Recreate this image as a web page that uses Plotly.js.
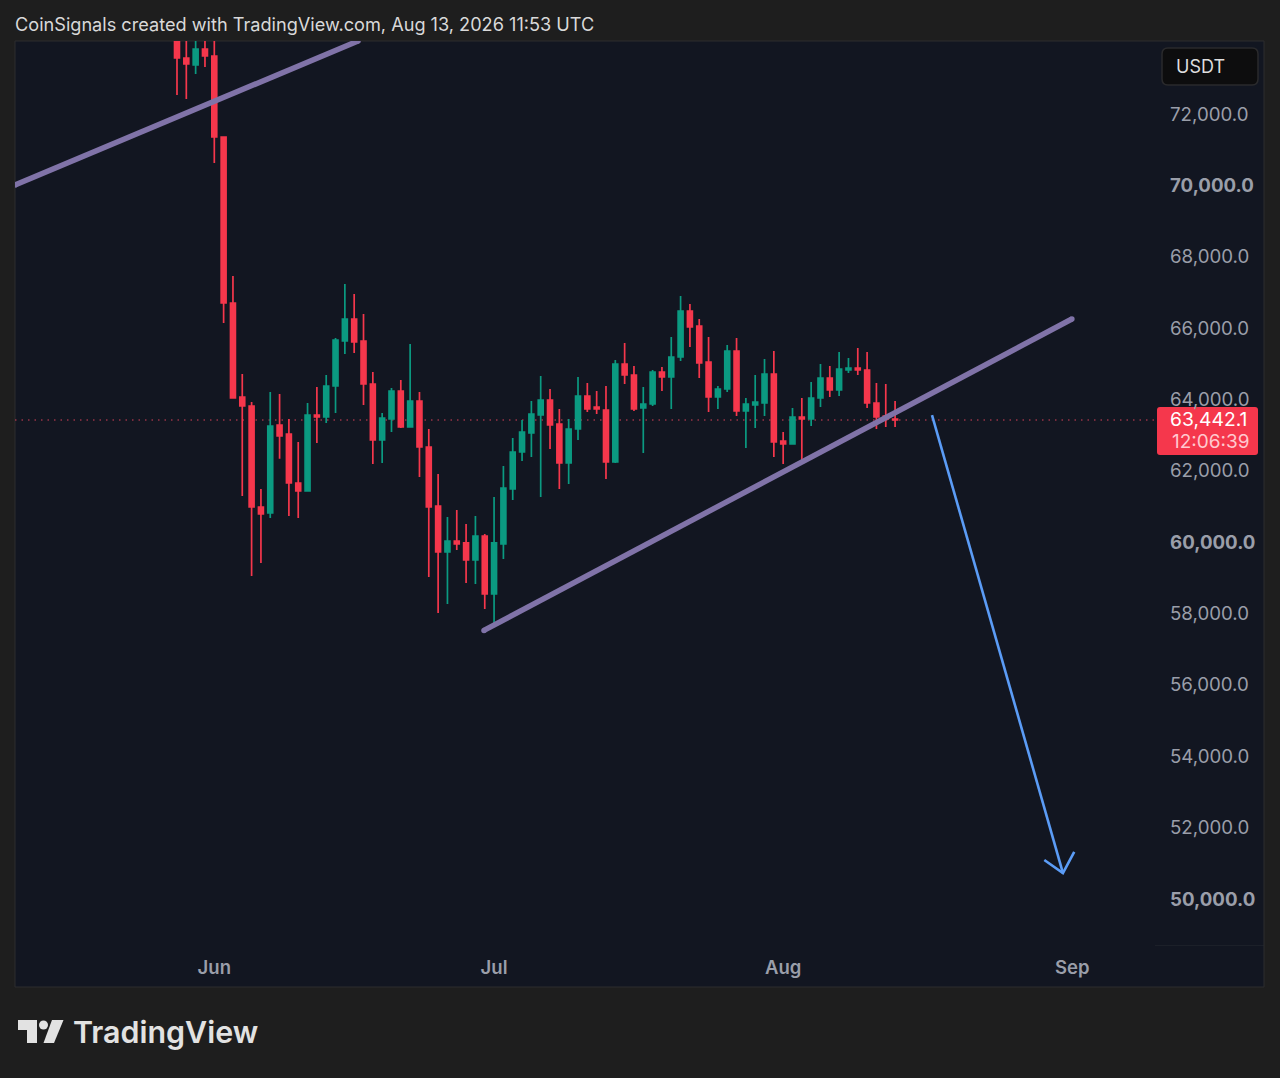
<!DOCTYPE html>
<html>
<head>
<meta charset="utf-8">
<script src="https://cdn.plot.ly/plotly-3.0.1.min.js"></script>
<style>
  html, body { margin: 0; padding: 0; background: #1e1e1e; }
  #chart { width: 1280px; height: 1078px; }
</style>
</head>
<body>
<div id="chart"></div>
<script>
// daily candles
const days = [
  '2026-05-28','2026-05-29','2026-05-30','2026-05-31',
  '2026-06-01','2026-06-02','2026-06-03','2026-06-04','2026-06-05','2026-06-06','2026-06-07','2026-06-08','2026-06-09','2026-06-10',
  '2026-06-11','2026-06-12','2026-06-13','2026-06-14','2026-06-15','2026-06-16','2026-06-17','2026-06-18','2026-06-19','2026-06-20',
  '2026-06-21','2026-06-22','2026-06-23','2026-06-24','2026-06-25','2026-06-26','2026-06-27','2026-06-28','2026-06-29','2026-06-30',
  '2026-07-01','2026-07-02','2026-07-03','2026-07-04','2026-07-05','2026-07-06','2026-07-07','2026-07-08','2026-07-09','2026-07-10',
  '2026-07-11','2026-07-12','2026-07-13','2026-07-14','2026-07-15','2026-07-16','2026-07-17','2026-07-18','2026-07-19','2026-07-20',
  '2026-07-21','2026-07-22','2026-07-23','2026-07-24','2026-07-25','2026-07-26','2026-07-27','2026-07-28','2026-07-29','2026-07-30','2026-07-31',
  '2026-08-01','2026-08-02','2026-08-03','2026-08-04','2026-08-05','2026-08-06','2026-08-07','2026-08-08','2026-08-09','2026-08-10','2026-08-11','2026-08-12','2026-08-13'
];
const opens = [
  74400,73541,73345,73794,
  73597,71327,66675,64041,63789,60958,60790,63256,63004,61631,
  61407,63536,63480,64349,65610,66227,65610,64405,62836,63424,
  64209,63200,63929,62640,60986,59697,60005,59950,59473,60145,
  58520,59921,61463,62500,63032,63536,63957,63284,62191,63144,
  64069,63761,63677,62219,64966,64657,63733,63845,64741,64601,
  65162,66451,66031,65022,64041,64265,65330,63649,63817,63873,64685,
  62808,62724,63480,63424,64013,64573,64237,64798,64854,64798,63873,63508,63424
];
const highs = [
  75000,74500,74300,74300,
  74300,71327,67432,64685,63900,61463,64181,64125,63424,62780,
  63873,64321,64657,65695,67208,66927,66367,64741,63593,64293,
  64517,65526,64181,63144,61883,60678,60874,60482,60706,60201,
  61238,62107,62892,63396,63929,64629,64265,63705,63424,64601,
  64433,64209,64349,65078,65554,64910,64321,64797,64882,65723,
  66871,66647,66227,65723,64349,65498,65695,64013,64657,65106,65330,
  63060,63733,64013,64461,64966,64910,65302,65134,65414,65302,64433,64405,63929
];
const lows = [
  72504,72392,73093,73289,
  70599,66115,64000,61267,59025,59389,60650,62312,60706,60650,
  61407,62752,63312,63593,65246,65274,63817,62163,62191,63060,
  63172,63200,61799,58996,57987,58240,59753,58828,58800,58100,
  57707,59501,61154,62248,62360,61238,62584,61463,61603,62836,
  63621,63564,61743,62190,64405,63649,62472,63789,64209,63705,
  65050,65442,64573,63621,63705,64181,63508,62612,63172,63508,62360,
  62163,62724,62191,63228,63761,64041,64069,64713,64657,63733,63144,63200,63200
];
const closes = [
  73541,73373,73794,73597,
  71327,66675,64013,63789,60958,60762,63228,62948,61631,61407,
  63536,63480,64349,65638,66227,65582,64405,62836,63452,64209,
  63200,63929,62640,60958,59697,60005,59921,59473,60145,58520,
  59950,61491,62500,63060,63564,63957,63256,62191,63144,64069,
  63705,63705,62219,64966,64657,63705,63845,64741,64601,65162,
  66451,66003,64994,64041,64265,65330,63649,63845,63901,64685,62780,
  62724,63480,63424,64013,64573,64237,64826,64854,64798,63873,63480,63424,63396
];

// drawings on the chart
const upperTrendX = ['2026-05-10 15:07','2026-06-16 10:00'];
const upperTrendY = [69982,74018];
const lowerTrendX = ['2026-06-29 22:00','2026-08-31 23:00'];
const lowerTrendY = [57500,66227];
const arrowX = ['2026-08-16 23:00','2026-08-31 00:00',null,'2026-08-29 00:00','2026-08-31 00:00','2026-09-01 05:00'];
const arrowY = [63536,50700,null,51066,50700,51290];
const lastPriceLine = 63396;

const priceTicks = [72000,70000,68000,66000,64000,62000,60000,58000,56000,54000,52000,50000];
const priceLabels = ['72,000.0','<b>70,000.0</b>','68,000.0','66,000.0','64,000.0','62,000.0','<b>60,000.0</b>','58,000.0','56,000.0','54,000.0','52,000.0','<b>50,000.0</b>'];
const monthTicks = ['2026-06-01','2026-07-01','2026-08-01','2026-09-01'];
const monthLabels = ['Jun','Jul','Aug','Sep'];

const RED = '#f5374c', GREEN = '#0b9a81', PURPLE = '#8073a8', BLUE = '#5b9cf6';
const FONT = 'Inter, "Liberation Sans", sans-serif';

// pixel -> paper for the furniture around the plot (plot box is 15..1155, 41..945)
const px = x => (x - 15) / 1140;
const py = y => (945 - y) / 904;
const box = (x0, y0, x1, y1, fill, line) => ({
  type:'rect', xref:'paper', yref:'paper', layer:'below',
  x0:px(x0), y0:py(y0), x1:px(x1), y1:py(y1),
  fillcolor:fill, line:{color:line || fill, width:line ? 1 : 0}
});
const roundBox = (x0, y0, x1, y1, r, fill, line) => {
  const P = (x, y) => px(x) + ',' + py(y);
  return {
    type:'path', xref:'paper', yref:'paper', layer:'below', fillcolor:fill,
    line:{color:line || fill, width:line ? 1.5 : 0},
    path:'M' + P(x0 + r, y0) + 'L' + P(x1 - r, y0) + 'Q' + P(x1, y0) + ' ' + P(x1, y0 + r) +
      'L' + P(x1, y1 - r) + 'Q' + P(x1, y1) + ' ' + P(x1 - r, y1) +
      'L' + P(x0 + r, y1) + 'Q' + P(x0, y1) + ' ' + P(x0, y1 - r) +
      'L' + P(x0, y0 + r) + 'Q' + P(x0, y0) + ' ' + P(x0 + r, y0) + 'Z'
  };
};
const poly = (pts, fill) => ({
  type:'path', xref:'paper', yref:'paper', fillcolor:fill, line:{width:0},
  path:'M' + pts.map(p => px(p[0]) + ',' + py(p[1])).join('L') + 'Z'
});
const label = (x, y, text, size, color, weight) => ({
  xref:'paper', yref:'paper', x:px(x), y:py(y), text, showarrow:false,
  xanchor:'left', yanchor:'middle',
  font:{family:FONT, size, color, weight:weight || 400}
});

const LOGO = '#e2e2e2';
const shapes = [
  box(15, 41, 1264, 987, '#121621', '#2c2c2e'),
  box(1155, 945, 1264, 945.6, '#262a33'),
  {type:'line', xref:'paper', yref:'y', x0:0, x1:px(1157), y0:lastPriceLine, y1:lastPriceLine, layer:'below',
    line:{color:'#d9405a', width:1, dash:'1.5px,5px'}},
  roundBox(1157, 407, 1258, 455, 3, RED),
  roundBox(1162, 48, 1258, 85, 6, '#0d0d0e', '#2a2a2c'),
  poly([[18,1020],[37,1020],[37,1043],[27,1043],[27,1030],[18,1030]], LOGO),
  poly([[52,1020],[63.5,1020],[54,1043],[43.5,1043]], LOGO),
  {type:'circle', xref:'paper', yref:'paper', x0:px(39), x1:px(48), y0:py(1020.5), y1:py(1029.5), fillcolor:LOGO, line:{width:0}}
];

const annotations = [
  label(13, 24, 'CoinSignals created with TradingView.com, Aug 13, 2026 11:53 UTC', 18.15, '#d9d9d9'),
  label(1174, 67, 'USDT', 18, '#dedede'),
  label(1168, 419, '63,442.1', 19.3, '#ffffff'),
  label(1170, 441, '12:06:39', 19, '#ffc9cf'),
  label(71, 1032, 'TradingView', 30.4, LOGO, 600)
];

const trend = (x, y) => ({
  type:'scatter', mode:'lines+markers', x, y,
  line:{color:PURPLE, width:5.5}, marker:{color:PURPLE, size:5.5},
  hoverinfo:'skip', showlegend:false
});

const traces = [
  {
    type:'candlestick', x:days, open:opens, high:highs, low:lows, close:closes,
    increasing:{line:{color:GREEN, width:1.7}, fillcolor:GREEN},
    decreasing:{line:{color:RED, width:1.7}, fillcolor:RED},
    whiskerwidth:0, hoverinfo:'skip', showlegend:false
  },
  trend(upperTrendX, upperTrendY),
  trend(lowerTrendX, lowerTrendY),
  {type:'scatter', mode:'lines', x:arrowX, y:arrowY, line:{color:BLUE, width:2.6}, hoverinfo:'skip', showlegend:false}
];

Plotly.newPlot('chart', traces, {
  width:1280, height:1078,
  margin:{l:15, r:125, t:41, b:133, pad:0},
  paper_bgcolor:'#1e1e1e', plot_bgcolor:'rgba(0,0,0,0)',
  font:{family:FONT},
  showlegend:false, hovermode:false, boxgap:0.25,
  xaxis:{
    type:'date', range:['2026-05-10 15:07','2026-09-09 20:53'],
    rangeslider:{visible:false}, showgrid:false, zeroline:false, showline:false, ticks:'',
    tickmode:'array', tickvals:monthTicks, ticktext:monthLabels,
    tickangle:0, ticklabelstandoff:9,
    tickfont:{family:FONT, size:18.5, color:'#9a9ea9', weight:600}
  },
  yaxis:{
    side:'right', range:[48683,74018], fixedrange:true,
    showgrid:false, zeroline:false, showline:false, ticks:'',
    tickmode:'array', tickvals:priceTicks, ticktext:priceLabels,
    ticklabelstandoff:14, ticklabelshift:1,
    tickfont:{family:FONT, size:18.7, color:'#9a9ea9'}
  },
  shapes, annotations
}, {displayModeBar:false, staticPlot:true});
</script>
</body>
</html>
